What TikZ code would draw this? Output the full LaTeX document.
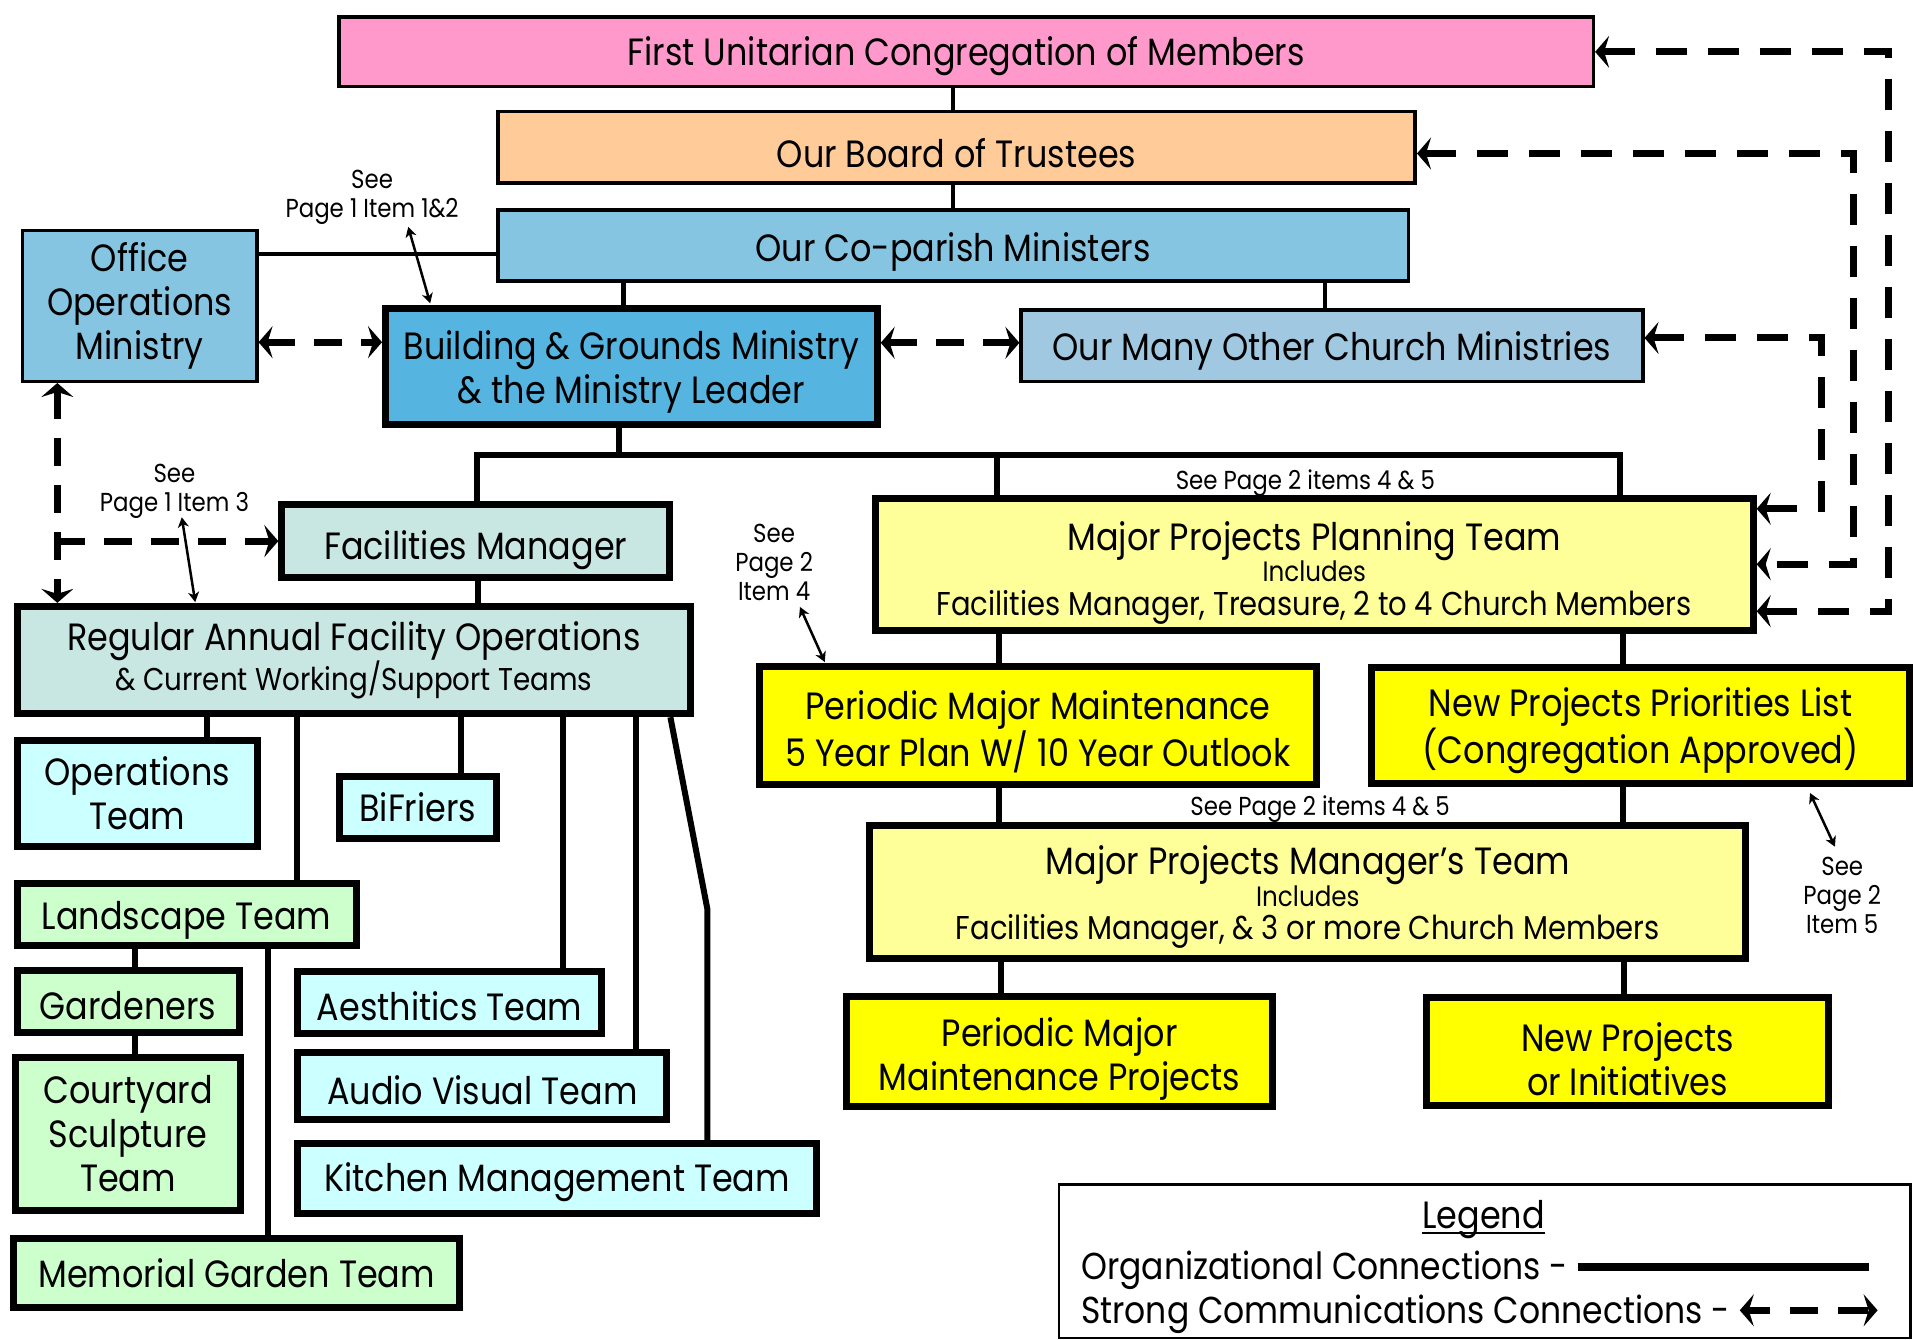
\documentclass[tikz,border=0pt]{standalone}
\usepackage{fontspec}
\setmainfont[FakeStretch=0.88]{Poppins}
\usetikzlibrary{arrows.meta,backgrounds}
\definecolor{cpink}{HTML}{FF99CC}
\definecolor{cpeach}{HTML}{FFCC99}
\definecolor{cmin}{HTML}{86C5E2}
\definecolor{cbuild}{HTML}{55B4E0}
\definecolor{cother}{HTML}{A0C8E1}
\definecolor{cfac}{HTML}{C8E6E2}
\definecolor{ccyan}{HTML}{CCFFFF}
\definecolor{cgreen}{HTML}{CCFFCC}
\definecolor{cly}{HTML}{FFFF99}
\definecolor{cy}{HTML}{FFFF00}
\newcommand\fA{\fontsize{38}{44}\selectfont}
\newcommand\fB{\fontsize{33}{38}\selectfont}
\newcommand\fBs{\fontsize{31.5}{38}\selectfont}
\newcommand\fC{\fontsize{28}{32}\selectfont}
\newcommand\fD{\fontsize{26}{29}\selectfont}
\newcommand\fL{\fontsize{37.5}{44}\selectfont}
% name, style, x1, y1, x2, y2, text
\newcommand\mkbox[7]{%
  \pgfmathsetmacro\bxcx{(#3+#5)/2}%
  \pgfmathsetmacro\bxcy{(#4+#6)/2}%
  \pgfmathsetmacro\bxw{(#5-#3)*1.22}%
  \pgfmathsetmacro\bxh{(#6-#4)*1.22}%
  \node[#2, minimum width=\bxw pt, minimum height=\bxh pt] (#1) at (\bxcx,\bxcy) {#7};}
\tikzset{
  bigtip/.tip={Stealth[length=14pt,width=32pt,inset=5pt]},
  smalltip/.tip={Stealth[length=10pt,width=11pt,inset=3pt]},
  box/.style={draw=black, inner sep=0pt, align=center, font=\fA},
  thinbox/.style={box, line width=3.5pt},
  thickbox/.style={box, line width=7pt},
  tshift/.style={execute at begin node={\rule{0pt}{\dimexpr 28pt+#1pt\relax}}},
  org/.style={line width=4.5pt},
  orgb/.style={line width=6pt},
  comm/.style={line width=7pt, dash pattern=on 28pt off 19pt, arrows={bigtip-bigtip}},
  commR/.style={line width=7pt, dash pattern=on 31pt off 21pt, arrows={bigtip-bigtip}},
  seearr/.style={line width=2.5pt, arrows={smalltip-smalltip}},
  note/.style={font=\fD, align=center, inner sep=0pt},
}
\begin{document}
\begin{tikzpicture}[x=1.22pt,y=-1.22pt]
\useasboundingbox (0,0) rectangle (1568,1098);
% top boxes
\mkbox{pink}{thinbox, fill=cpink, tshift=10}{278}{14}{1306}{71}{First Unitarian Congregation of Members}
\mkbox{board}{thinbox, fill=cpeach, tshift=12}{408}{91.5}{1160}{150}{Our Board of Trustees}
\mkbox{minis}{thinbox, fill=cmin, tshift=14}{408}{172}{1154.5}{230.5}{Our Co-parish Ministers}
\mkbox{office}{thinbox, fill=cmin}{18.5}{189}{210.5}{312.5}{Office\\Operations\\Ministry}
\mkbox{build}{thickbox, fill=cbuild, tshift=56}{316}{253}{719}{348}{Building \& Grounds Ministry\\\& the Ministry Leader}
\mkbox{other}{thinbox, fill=cother, tshift=12}{837}{254}{1346.5}{312.5}{Our Many Other Church Ministries}
% left side
\mkbox{facil}{thickbox, fill=cfac, tshift=19}{231}{413.5}{549}{473}{Facilities Manager}
\mkbox{regular}{thickbox, fill=cfac}{14}{497}{566}{585}{Regular Annual Facility Operations\\[-4.5pt]{\fBs \& Current Working/Support Teams}}
\mkbox{opteam}{thickbox, fill=ccyan}{14}{607}{211}{694}{Operations\\Team}
\mkbox{bifriers}{thickbox, fill=ccyan}{278}{636.5}{407}{687}{BiFriers}
\mkbox{landscape}{thickbox, fill=cgreen, tshift=12}{14}{724}{292}{775}{Landscape Team}
\mkbox{gardeners}{thickbox, fill=cgreen, tshift=9}{14}{795.5}{196}{846}{Gardeners}
\mkbox{courtyard}{thickbox, fill=cgreen}{13}{867}{197}{992}{Courtyard\\Sculpture\\Team}
\mkbox{memorial}{thickbox, fill=cgreen}{11}{1015}{377}{1071.6}{Memorial Garden Team}
\mkbox{aesth}{thickbox, fill=ccyan, tshift=8}{244}{796}{493}{847}{Aesthitics Team}
\mkbox{av}{thickbox, fill=ccyan, tshift=8}{244}{863}{546.6}{917.6}{Audio Visual Team}
\mkbox{kitchen}{thickbox, fill=ccyan, tshift=8}{244}{937.5}{669.6}{994.5}{Kitchen Management Team}
% right side
\mkbox{mpp}{thickbox, fill=cly, tshift=82}{717.5}{409}{1437}{517}{Major Projects Planning Team\\[-12.5pt]{\fC Includes}\\[-10.5pt]{\fB Facilities Manager, Treasure, 2 to 4 Church Members}}
\mkbox{periodic}{thickbox, fill=cy, tshift=59}{622.5}{546.7}{1079}{643}{Periodic Major Maintenance\\5 Year Plan W/ 10 Year Outlook}
\mkbox{newlist}{thickbox, fill=cy, tshift=58}{1124.5}{547}{1565}{642}{New Projects Priorities List\\(Congregation Approved)}
\mkbox{mpm}{thickbox, fill=cly, tshift=77}{713}{676.6}{1431}{785.5}{Major Projects Manager’s Team\\[-12.5pt]{\fC Includes}\\[-10.5pt]{\fB Facilities Manager, \& 3 or more Church Members}}
\mkbox{pproj}{thickbox, fill=cy, tshift=59}{694}{817}{1043}{907}{Periodic Major\\Maintenance Projects}
\mkbox{newproj}{thickbox, fill=cy, tshift=59}{1169.6}{818}{1498.7}{906}{New Projects\\or Initiatives}
% legend
\mkbox{legend}{draw=black, line width=2.5pt, inner sep=0pt}{868}{971}{1566}{1096.5}{}
\node[font=\fontsize{38}{44}\selectfont, anchor=base, inner sep=0pt] (legtitle) at (1216,1007) {Legend};
\draw[line width=2.2pt] ([yshift=-4.5pt]legtitle.base west) -- ([yshift=-4.5pt]legtitle.base east);
\node[font=\fL, anchor=base west, inner sep=0pt] (legorg) at (886,1049) {Organizational Connections -};
\node[font=\fL, anchor=base west, inner sep=0pt] (legcomm) at (886,1085) {Strong Communications Connections -};
\coordinate (lo1) at (1293,1038.5);
\coordinate (lo2) at (1532,1038.5);
\draw[line width=8pt] (lo1) -- (lo2);
\coordinate (lc1) at (1426,1074);
\coordinate (lc2) at (1539,1074);
\draw[line width=7pt, dash pattern=on 22pt off 20pt on 28pt off 20pt on 30pt off 20pt, arrows={bigtip-bigtip}] (lc1) -- (lc2);
% notes
\node[note] (n1) at (305,162) {See\\Page 1 Item 1\&2};
\node[note] (n2) at (143,402.5) {See\\Page 1 Item 3};
\node[note] (n3) at (634.5,461) {See\\Page 2\\Item 4};
\node[note] (n4) at (1510,734) {See\\Page 2\\Item 5};
\node[note] (n5) at (1070,396) {See Page 2 items 4 \& 5};
\node[note] (n6) at (1082,663) {See Page 2 items 4 \& 5};
\coordinate (s1a) at (334.6,186); \coordinate (s1b) at (352.6,248.6);
\coordinate (s2a) at (149,424); \coordinate (s2b) at (160,493.5);
\coordinate (s3a) at (655.7,497.5); \coordinate (s3b) at (676,542.6);
\coordinate (s4a) at (1483.6,650); \coordinate (s4b) at (1504,694);
\draw[seearr] (s1a) -- (s1b);
\draw[seearr] (s2a) -- (s2b);
\draw[seearr] (s3a) -- (s3b);
\draw[seearr] (s4a) -- (s4b);
% communication arrows
\draw[comm] (office.east |- 0,280.5) -- (build.west |- 0,280.5);
\draw[comm] (build.east |- 0,281) -- (other.west |- 0,281);
\draw[comm] (47,0 |- office.south) -- (47,0 |- regular.north);
\coordinate (br) at (47,443.5);
\draw[comm, arrows={-bigtip}] (br) -- (facil.west |- 0,443.5);
\draw[commR] (pink.east |- 0,42.5) -| (1548,501) -- (mpp.east |- 0,501);
\draw[commR] (board.east |- 0,125.8) -| (1519,462.5) -- (mpp.east |- 0,462.5);
\draw[commR] (other.east |- 0,277) -| (1493,417) -- (mpp.east |- 0,417);
% organisational connectors
\begin{pgfonlayer}{background}
\draw[org] (781,0 |- pink.south) -- (781,0 |- board.north);
\draw[org] (781,0 |- board.south) -- (781,0 |- minis.north);
\draw[org] (office.east |- 0,208) -- (minis.west |- 0,208);
\draw[org] (511,0 |- minis.south) -- (511,0 |- build.north);
\draw[org] (1086,0 |- minis.south) -- (1086,0 |- other.north);
\draw[orgb] (507,0 |- build.south) -- (507,373);
\draw[orgb] (391,0 |- facil.north) |- (1328,373) -- (1328,0 |- mpp.north);
\draw[orgb] (817,373) -- (817,0 |- mpp.north);
\draw[orgb] (392,0 |- facil.south) -- (392,0 |- regular.north);
\draw[orgb] (170,0 |- regular.south) -- (170,0 |- opteam.north);
\draw[orgb] (243.5,0 |- regular.south) -- (243.5,0 |- landscape.north);
\draw[orgb] (377.5,0 |- regular.south) -- (377.5,0 |- bifriers.north);
\draw[orgb] (461.5,0 |- regular.south) -- (461.5,0 |- aesth.north);
\draw[orgb] (521,0 |- regular.south) -- (521,0 |- av.north);
\draw[orgb] (549.5,0 |- regular.south) -- (579.7,744.6) -- (579.7,0 |- kitchen.north);
\draw[orgb] (110.5,0 |- landscape.south) -- (110.5,0 |- gardeners.north);
\draw[orgb] (110.5,0 |- gardeners.south) -- (110.5,0 |- courtyard.north);
\draw[orgb] (220,0 |- landscape.south) -- (220,0 |- memorial.north);
\draw[orgb] (818.5,0 |- mpp.south) -- (818.5,0 |- periodic.north);
\draw[orgb] (1330,0 |- mpp.south) -- (1330,0 |- newlist.north);
\draw[orgb] (818.5,0 |- periodic.south) -- (818.5,0 |- mpm.north);
\draw[orgb] (1330,0 |- newlist.south) -- (1330,0 |- mpm.north);
\draw[orgb] (820.6,0 |- mpm.south) -- (820.6,0 |- pproj.north);
\draw[orgb] (1331,0 |- mpm.south) -- (1331,0 |- newproj.north);
\end{pgfonlayer}
\end{tikzpicture}
\end{document}
